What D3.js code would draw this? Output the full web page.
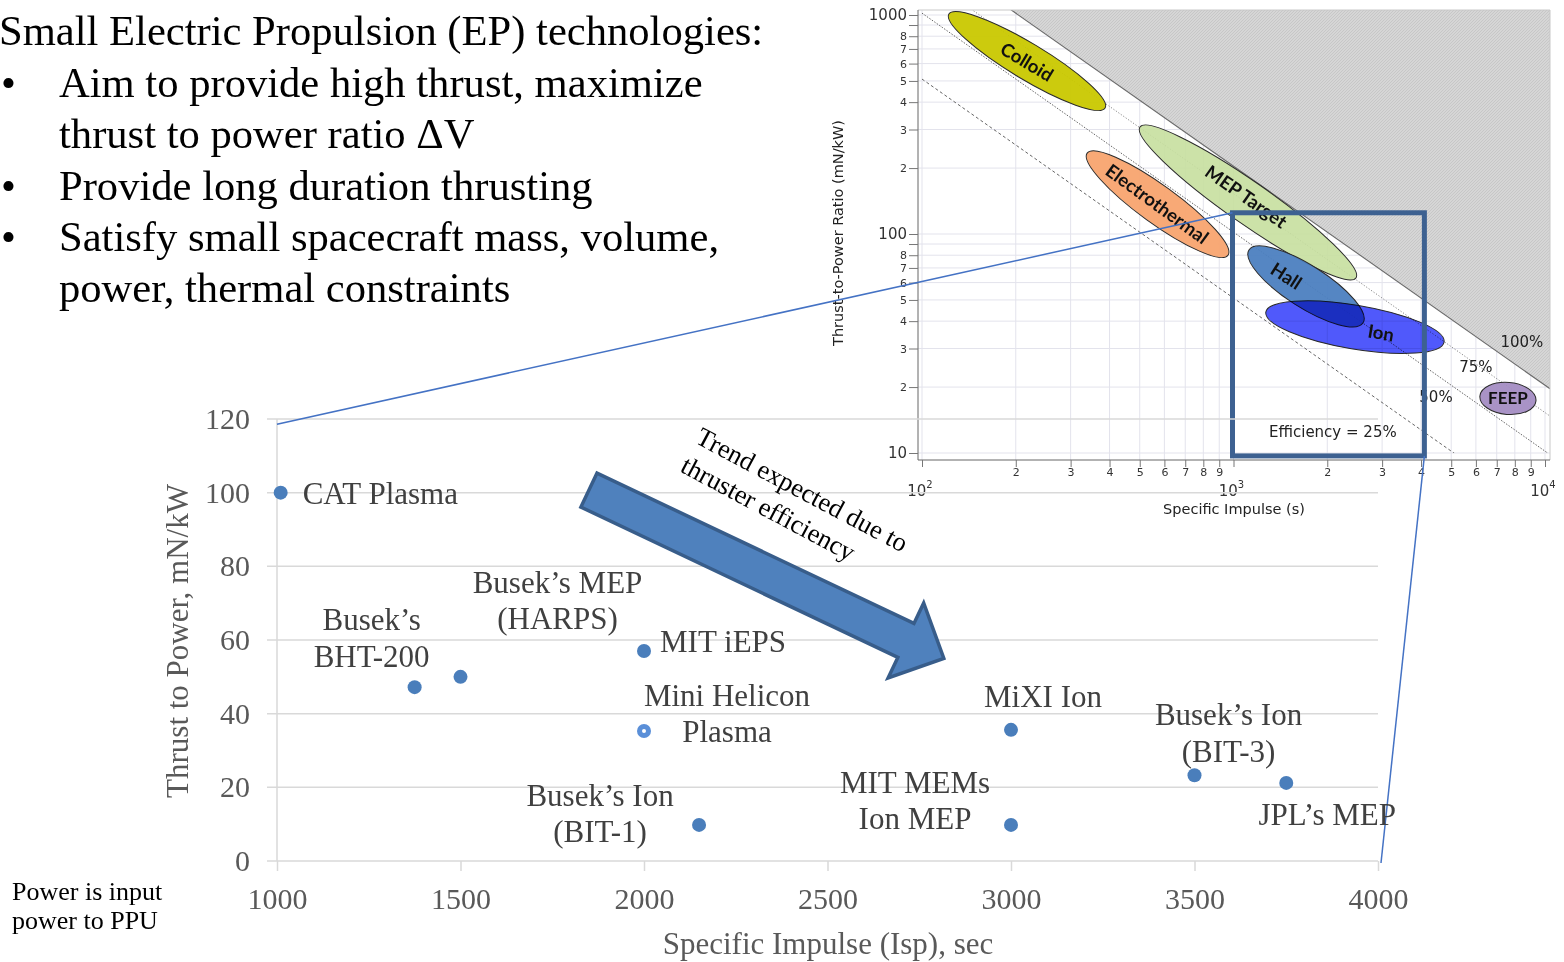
<!DOCTYPE html>
<html>
<head>
<meta charset="utf-8">
<script src="https://cdn.jsdelivr.net/npm/d3@7"></script>
<style>
  body { margin: 0; background: #fff; }
  svg { display: block; }
</style>
</head>
<body>
<svg id="chart" width="1564" height="962"></svg>
<script>
// ---- main chart data (Isp in s, thrust-to-power in mN/kW) ----
const thrusterNames = ["CAT Plasma", "Busek’s BHT-200", "Busek’s MEP (HARPS)", "MIT iEPS", "Mini Helicon Plasma",
  "Busek’s Ion (BIT-1)", "MiXI Ion", "MIT MEMs Ion MEP", "Busek’s Ion (BIT-3)", "JPL’s MEP"];
const specificImpulse = [1010, 1375, 1500, 2000, 2000, 2150, 3000, 3000, 3500, 3750];
const thrustToPower = [100, 47.2, 50, 57, 35.3, 9.8, 35.6, 9.8, 23.3, 21.2];
const labelLines = [["CAT Plasma"], ["Busek’s", "BHT-200"], ["Busek’s MEP", "(HARPS)"], ["MIT iEPS"],
  ["Mini Helicon", "Plasma"], ["Busek’s Ion", "(BIT-1)"], ["MiXI Ion"], ["MIT MEMs", "Ion MEP"],
  ["Busek’s Ion", "(BIT-3)"], ["JPL’s MEP"]];
const xTickValues = [1000, 1500, 2000, 2500, 3000, 3500, 4000];
const yTickValues = [0, 20, 40, 60, 80, 100, 120];

// ---- inset (log-log) data ----
const regionNames = ["Colloid", "Electrothermal", "MEP Target", "Hall", "Ion", "FEEP"];
const regionStart = [[122, 1010], [339, 234], [501, 308], [1121, 84.5], [1270, 44], [6180, 18.2]];
const regionEnd = [[387, 376], [960, 80], [2472, 63], [2606, 39.3], [4742, 32.1], [9355, 17.3]];
const regionLabelAt = [[217, 610], [568, 137], [1097, 148], [1476, 64.2], [2975, 35.3], [7603, 17.8]];
const efficiencies = [1, 0.75, 0.5, 0.25];
const efficiencyLabels = ["100%", "75%", "50%", "Efficiency = 25%"];
const efficiencyLabelAt = [[8433, 32.1], [5998, 24.7], [4467, 18], [2084, 12.5]];

const bullets = [
  ["Aim to provide high thrust, maximize", "thrust to power ratio ΔV"],
  ["Provide long duration thrusting"],
  ["Satisfy small spacecraft mass, volume,", "power, thermal constraints"]
];

// label placement relative to each point (px): anchor, dx, first-baseline dy
const labelPlace = [
  ["start", 22, 11], ["middle", -43, -57], ["middle", 97, -84], ["start", 16, 1], ["middle", 83, -25],
  ["middle", -99, -19], ["middle", 32, -23], ["middle", -96, -32], ["middle", 34, -50], ["middle", 41, 42]
];
const regionColors = {
  "Colloid": "#c9c800", "Electrothermal": "#f8a46f", "MEP Target": "#c6df9e",
  "Hall": "#4c7fc0", "Ion": "#4750fb", "FEEP": "#a48dc3"
};
const regionHalfWidth = { "Colloid": 18, "Electrothermal": 19, "MEP Target": 21, "Hall": 21, "Ion": 22, "FEEP": 16 };

const serif = "'Times New Roman', 'Liberation Serif', serif";
const sans = "'DejaVu Sans', sans-serif";
const svg = d3.select("#chart");

// ================= intro text =================
const intro = svg.append("g").attr("font-family", serif).attr("font-size", 42.6).attr("fill", "#000");
intro.append("text").attr("x", -1).attr("y", 45).text("Small Electric Propulsion (EP) technologies:");
let lineY = 97;
bullets.forEach(b => {
  intro.append("text").attr("x", 1).attr("y", lineY).text("•");
  b.forEach(line => {
    intro.append("text").attr("x", 59).attr("y", lineY).text(line);
    lineY += 51.3;
  });
});

svg.append("g").attr("font-family", serif).attr("font-size", 26).attr("fill", "#000")
  .selectAll("text").data(["Power is input", "power to PPU"]).join("text")
  .attr("x", 12).attr("y", (d, i) => 900 + i * 29).text(d => d);

// ================= inset chart =================
const ix = d3.scaleLog().domain([100, 10000]).range([922, 1545]);
const iy = d3.scaleLog().domain([10, 1000]).range([453, 15]);
const box = { left: 918, right: 1550, top: 10, bottom: 460 };
const tpAt = (isp, eta) => 2 * eta * 1e6 / (9.80665 * isp);

const defs = svg.append("defs");
const hatch = defs.append("pattern").attr("id", "hatch").attr("width", 3).attr("height", 3)
  .attr("patternUnits", "userSpaceOnUse");
hatch.append("rect").attr("width", 3).attr("height", 3).attr("fill", "#d6d6d6");
hatch.append("path").attr("d", "M-1,1 L1,-1 M0,3 L3,0 M2,4 L4,2").attr("stroke", "#c0c0c0").attr("stroke-width", 0.7);
defs.append("clipPath").attr("id", "insetClip").append("rect")
  .attr("x", box.left).attr("y", box.top).attr("width", box.right - box.left).attr("height", 453 - box.top);

const inset = svg.append("g");

// grid
inset.append("g").selectAll("line").data(ix.ticks()).join("line")
  .attr("x1", d => ix(d)).attr("x2", d => ix(d)).attr("y1", box.top).attr("y2", box.bottom)
  .attr("stroke", "#e3e3ec").attr("stroke-width", 1);
inset.append("g").selectAll("line").data(iy.ticks()).join("line")
  .attr("x1", box.left).attr("x2", box.right).attr("y1", d => iy(d)).attr("y2", d => iy(d))
  .attr("stroke", "#e3e3ec").attr("stroke-width", 1);

// hatched "impossible" region above 100 % efficiency
const topTP = iy.invert(box.top);
const ispTop = 2 * 1e6 / (9.80665 * topTP);
const ispRight = ix.invert(box.right);
inset.append("path")
  .attr("d", d3.line()([[ix(ispTop), box.top], [box.right, box.top], [box.right, iy(tpAt(ispRight, 1))]]) + "Z")
  .attr("fill", "url(#hatch)");

// efficiency lines
const effDash = ["none", "1.2,1.8", "1.5,1.5", "3,2.5"];
const effColor = ["#6a6a6a", "#888", "#666", "#666"];
const effG = inset.append("g").attr("clip-path", "url(#insetClip)");
efficiencies.forEach((e, i) => {
  effG.append("line")
    .attr("x1", ix(100)).attr("y1", iy(tpAt(100, e)))
    .attr("x2", ix(ispRight)).attr("y2", iy(tpAt(ispRight, e)))
    .attr("stroke", effColor[i]).attr("stroke-width", i === 0 ? 1.1 : 1)
    .attr("stroke-dasharray", effDash[i]);
});

// frame + axes
inset.append("path")
  .attr("d", `M${box.left},${box.top}H${box.right}V${box.bottom}`)
  .attr("fill", "none").attr("stroke", "#c8c8c8");

const yAxisInset = inset.append("g").attr("transform", `translate(${box.left},0)`)
  .call(d3.axisLeft(iy).tickValues(iy.ticks()).tickSize(9).tickSizeOuter(0)
    .tickFormat(d => {
      const m = d / Math.pow(10, Math.floor(Math.log10(d) + 1e-9));
      if (Math.abs(m - 1) < 1e-6) return String(d);
      return Math.round(m) === 9 ? "" : String(Math.round(m));
    }));
yAxisInset.select(".domain").attr("stroke", "#666").attr("d", `M0,${box.top}V${box.bottom}`);
yAxisInset.selectAll(".tick line").attr("stroke", "#777");
yAxisInset.selectAll(".tick text").attr("fill", "#333").attr("font-family", sans)
  .attr("font-size", d => String(d).match(/^10+$/) ? 15 : 11).attr("x", -11);

const xAxisInset = inset.append("g").attr("transform", `translate(0,${box.bottom})`)
  .call(d3.axisBottom(ix).tickValues(ix.ticks()).tickSize(7).tickSizeOuter(0)
    .tickFormat(d => {
      const m = d / Math.pow(10, Math.floor(Math.log10(d) + 1e-9));
      return Math.abs(m - 1) < 1e-6 ? "" : String(Math.round(m));
    }));
xAxisInset.select(".domain").attr("stroke", "#666").attr("d", `M${box.left},0H${box.right}`);
xAxisInset.selectAll(".tick line").attr("stroke", "#777");
xAxisInset.selectAll(".tick text").attr("fill", "#333").attr("font-family", sans).attr("font-size", 11).attr("dy", "0.5em");

const decades = [100, 1000, 10000];
const decadeLabels = inset.append("g").attr("font-family", sans).attr("fill", "#333");
decades.forEach(d => {
  const t = decadeLabels.append("text").attr("x", ix(d) - 2).attr("y", 496).attr("text-anchor", "middle").attr("font-size", 15);
  t.append("tspan").text("10");
  t.append("tspan").attr("font-size", 10).attr("dy", -8).text(Math.log10(d));
});

inset.append("text").attr("x", 1234).attr("y", 514).attr("text-anchor", "middle")
  .attr("font-family", sans).attr("font-size", 14.5).attr("fill", "#222").text("Specific Impulse (s)");
inset.append("text").attr("transform", "translate(843,233) rotate(-90)").attr("text-anchor", "middle")
  .attr("font-family", sans).attr("font-size", 14.5).attr("fill", "#222").text("Thrust-to-Power Ratio (mN/kW)");

// technology regions (ellipses)
const regions = regionNames.map((name, i) => {
  const p1 = [ix(regionStart[i][0]), iy(regionStart[i][1])];
  const p2 = [ix(regionEnd[i][0]), iy(regionEnd[i][1])];
  return {
    name,
    cx: (p1[0] + p2[0]) / 2, cy: (p1[1] + p2[1]) / 2,
    rx: Math.hypot(p2[0] - p1[0], p2[1] - p1[1]) / 2,
    ry: regionHalfWidth[name],
    angle: Math.atan2(p2[1] - p1[1], p2[0] - p1[0]) * 180 / Math.PI,
    lx: ix(regionLabelAt[i][0]), ly: iy(regionLabelAt[i][1])
  };
});
inset.append("g").selectAll("ellipse").data(regions).join("ellipse")
  .attr("cx", d => d.cx).attr("cy", d => d.cy).attr("rx", d => d.rx).attr("ry", d => d.ry)
  .attr("transform", d => `rotate(${d.angle},${d.cx},${d.cy})`)
  .attr("fill", d => regionColors[d.name])
  .attr("fill-opacity", d => d.name === "MEP Target" ? 0.9 : 0.95)
  .attr("stroke", "#2a2a2a").attr("stroke-width", 1)
  .style("mix-blend-mode", d => d.name === "Ion" ? "multiply" : "normal");
inset.append("g").selectAll("text").data(regions).join("text")
  .attr("transform", d => `translate(${d.lx},${d.ly}) rotate(${d.name === "FEEP" ? 0 : d.angle})`)
  .attr("text-anchor", "middle").attr("dy", "0.35em")
  .attr("font-family", "Lato, 'Open Sans', sans-serif").attr("font-weight", 700)
  .attr("font-size", d => d.name === "FEEP" ? 17 : 18.5).attr("fill", "#111")
  .text(d => d.name);

inset.append("g").selectAll("text").data(efficiencyLabels).join("text")
  .attr("x", (d, i) => ix(efficiencyLabelAt[i][0])).attr("y", (d, i) => iy(efficiencyLabelAt[i][1]))
  .attr("text-anchor", "middle").attr("dy", "0.35em")
  .attr("font-family", sans).attr("font-size", 15).attr("fill", "#222").text(d => d);

// zoom box: main chart range drawn on the log inset
inset.append("rect")
  .attr("x", ix(1000) - 1).attr("y", iy(125))
  .attr("width", ix(4100) - ix(1000) + 1).attr("height", iy(9.7) - iy(125))
  .attr("fill", "none").attr("stroke", "#3d6191").attr("stroke-width", 5);

// ================= main chart =================
const x = d3.scaleLinear().domain([1000, 4000]).range([277, 1378]);
const y = d3.scaleLinear().domain([0, 120]).range([861, 419]);
const main = svg.append("g");

main.append("g").selectAll("line").data(yTickValues.filter(d => d > 0)).join("line")
  .attr("x1", x(1000) - 10).attr("x2", x(4000)).attr("y1", d => y(d)).attr("y2", d => y(d))
  .attr("stroke", "#d9d9d9").attr("stroke-width", 1.5);
main.append("line").attr("x1", x(1000)).attr("x2", x(1000)).attr("y1", y(120)).attr("y2", y(0))
  .attr("stroke", "#d9d9d9").attr("stroke-width", 1.5);

const xAxis = main.append("g").attr("transform", `translate(0,${y(0)})`)
  .call(d3.axisBottom(x).tickValues(xTickValues).tickSize(10).tickSizeOuter(0).tickPadding(17).tickFormat(d3.format("d")));
xAxis.select(".domain").attr("stroke", "#d9d9d9").attr("stroke-width", 1.5).attr("d", `M${x(1000) - 10},0H${x(4000)}`);
xAxis.selectAll(".tick line").attr("stroke", "#d9d9d9").attr("stroke-width", 1.5);
xAxis.selectAll(".tick text").attr("font-family", serif).attr("font-size", 30).attr("fill", "#595959");

const yAxis = main.append("g").attr("transform", `translate(${x(1000)},0)`)
  .call(d3.axisLeft(y).tickValues(yTickValues).tickSize(0).tickPadding(27));
yAxis.select(".domain").remove();
yAxis.selectAll(".tick text").attr("font-family", serif).attr("font-size", 30).attr("fill", "#595959");

main.append("text").attr("x", 828).attr("y", 954).attr("text-anchor", "middle")
  .attr("font-family", serif).attr("font-size", 31).attr("fill", "#595959").text("Specific Impulse (Isp), sec");
main.append("text").attr("transform", "translate(177,641) rotate(-90)").attr("text-anchor", "middle")
  .attr("dy", "0.35em").attr("font-family", serif).attr("font-size", 31).attr("fill", "#595959")
  .text("Thrust to Power, mN/kW");

// connector lines from the main chart to the box on the inset
const connColor = "#4472c4";
main.append("line").attr("x1", x(1000)).attr("y1", y(118.6)).attr("x2", ix(1000) - 1).attr("y2", iy(125))
  .attr("stroke", connColor).attr("stroke-width", 1.5);
main.append("line").attr("x1", x(4000) + 3).attr("y1", y(0) + 2).attr("x2", ix(4100)).attr("y2", iy(9.7))
  .attr("stroke", connColor).attr("stroke-width", 1.5);

// trend arrow (defined in data space: tail centre -> tip)
const arrowTail = [1850, 100.7], arrowTip = [2817, 55];
const ax0 = x(arrowTail[0]), ay0 = y(arrowTail[1]), ax1 = x(arrowTip[0]), ay1 = y(arrowTip[1]);
const aLen = Math.hypot(ax1 - ax0, ay1 - ay0);
const ux = (ax1 - ax0) / aLen, uy = (ay1 - ay0) / aLen, nx = -uy, ny = ux;
const shaftHW = 18.8, headHW = 41.5, headLen = 42;
const P = (s, t) => [ax0 + ux * s + nx * t, ay0 + uy * s + ny * t];
const arrowPts = [P(0, -shaftHW), P(aLen - headLen, -shaftHW), P(aLen - headLen, -headHW), P(aLen, 0),
  P(aLen - headLen, headHW), P(aLen - headLen, shaftHW), P(0, shaftHW)];
main.append("path").attr("d", d3.line()(arrowPts) + "Z")
  .attr("fill", "#4f81bd").attr("stroke", "#385d8a").attr("stroke-width", 3.5).attr("stroke-linejoin", "miter");

const trend = main.append("g").attr("transform", `translate(${x(2400)},${y(99.4)}) rotate(28)`)
  .attr("font-family", serif).attr("font-size", 26.5).attr("fill", "#000");
trend.append("text").attr("x", -110).attr("y", -1).text("Trend expected due to");
trend.append("text").attr("x", -110).attr("y", 31.5).text("thruster efficiency");

// data points
const pts = thrusterNames.map((name, i) => ({ name, isp: specificImpulse[i], tp: thrustToPower[i], lines: labelLines[i], place: labelPlace[i] }));
main.append("g").selectAll("circle").data(pts).join("circle")
  .attr("cx", d => x(d.isp)).attr("cy", d => y(d.tp)).attr("r", 7)
  .attr("fill", d => d.name === "Mini Helicon Plasma" ? "#5a8fd8" : "#4a7ebb");
main.append("circle").attr("cx", x(2000)).attr("cy", y(35.3)).attr("r", 2).attr("fill", "#fff");

const lbl = main.append("g").attr("font-family", serif).attr("font-size", 31).attr("fill", "#404040");
pts.forEach(d => {
  const t = lbl.append("text").attr("text-anchor", d.place[0])
    .attr("x", x(d.isp) + d.place[1]).attr("y", y(d.tp) + d.place[2]);
  d.lines.forEach((line, k) => {
    t.append("tspan").attr("x", x(d.isp) + d.place[1]).attr("dy", k === 0 ? 0 : 36.5).text(line);
  });
});
</script>
</body>
</html>
